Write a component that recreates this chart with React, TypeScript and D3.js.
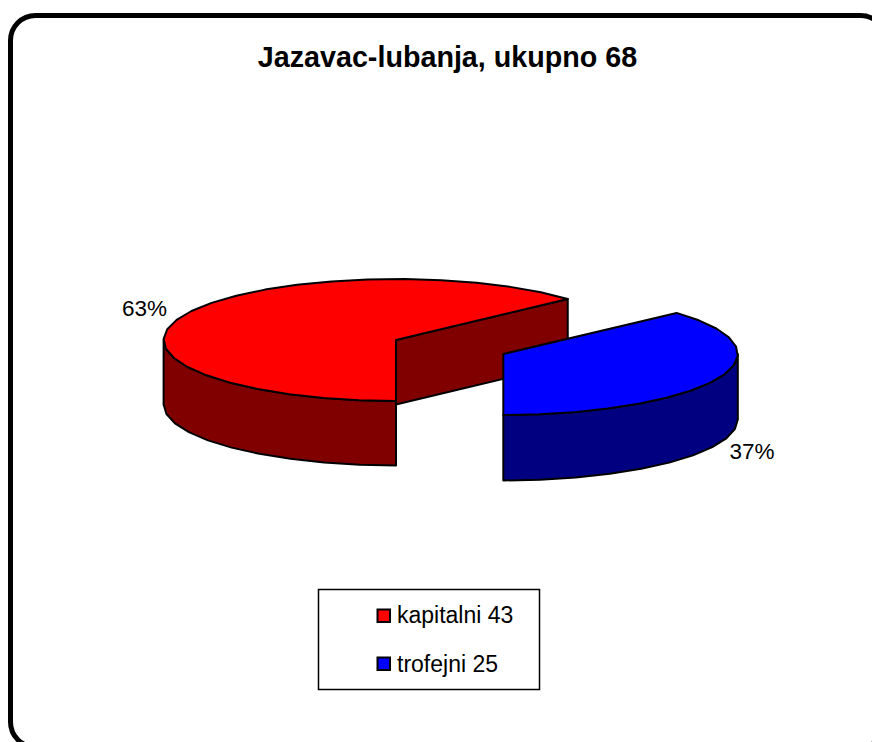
import React from "react";
import * as d3 from "d3";

const categories = ["kapitalni", "trofejni"];
const values = [43, 25];
const sliceColors = ["#ff0000", "#0000ff"];
const wallColors = ["#800000", "#000080"];
const titleText = "Jazavac-lubanja, ukupno 68";

const W = 872;
const H = 742;
const FONT = "'Liberation Sans', Arial, sans-serif";

// projection of each exploded slice
const frames = [
  { cx: 396, cy: 340, rx: 232.4, ry: 61, depth: 64.5 },
  { cx: 503.3, cy: 354, rx: 234.5, ry: 61, depth: 65.5 },
];
const labelPos = [
  { x: 144.5, y: 316 },
  { x: 752, y: 459 },
];

const total = d3.sum(values);
const arcs = d3
  .pie<number>()
  .sort(null)
  .startAngle(Math.PI)
  .endAngle(3 * Math.PI)(values);

const STEP = (9 * Math.PI) / 180;

function samples(a0: number, a1: number): number[] {
  const n = Math.max(1, Math.round((a1 - a0) / STEP));
  return d3.range(n + 1).map((i) => a0 + ((a1 - a0) * i) / n);
}

function App() {
  const line = d3.line<[number, number]>();
  const pieces = arcs.map((arc, i) => {
    const f = frames[i];
    const px = (t: number) => f.cx + f.rx * Math.sin(t);
    const py = (t: number) => f.cy - f.ry * Math.cos(t);
    const rim: [number, number][] = samples(arc.startAngle, arc.endAngle).map((t) => [px(t), py(t)]);
    const top = line([[f.cx, f.cy], ...rim, [f.cx, f.cy]]) + "Z";

    // outer wall: the part of the rim that faces the viewer (angles π/2..3π/2, modulo 2π)
    const turn = arc.startAngle >= 2 * Math.PI ? 2 * Math.PI : 0;
    const wa0 = Math.max(arc.startAngle, Math.PI / 2 + turn);
    const wa1 = Math.min(arc.endAngle, (3 * Math.PI) / 2 + turn);
    const wallTop: [number, number][] = samples(wa0, wa1).map((t) => [px(t), py(t)]);
    const wallBottom = wallTop.map(([x, y]) => [x, y + f.depth] as [number, number]).reverse();
    const wall = line([...wallTop, ...wallBottom]) + "Z";

    // flat cut face for the slice whose end edge looks toward the viewer
    const ex = px(arc.endAngle);
    const ey = py(arc.endAngle);
    const cut =
      arc.endAngle > 2 * Math.PI && arc.endAngle < 3 * Math.PI - 0.01
        ? line([
            [f.cx, f.cy],
            [ex, ey],
            [ex, ey + f.depth],
            [f.cx, f.cy + f.depth],
          ]) + "Z"
        : null;
    return { top, wall, cut, i };
  });

  return (
    <svg
      width={W}
      height={H}
      viewBox={`0 0 ${W} ${H}`}
      style={{ position: "absolute", left: 0, top: 0, background: "#fff" }}
      fontFamily={FONT}
    >
      <rect x={10.5} y={15.5} width={875} height={731.5} rx={25} ry={25} fill="#fff" stroke="#000" strokeWidth={5} />
      <text x={447.5} y={67} textAnchor="middle" fontSize={28.7} fontWeight="bold" fill="#000">
        {titleText}
      </text>

      {pieces.map((p) => (
        <g key={p.i} stroke="#000" strokeWidth={2} strokeLinejoin="round">
          {p.cut && <path d={p.cut} fill={wallColors[p.i]} />}
          <path d={p.wall} fill={wallColors[p.i]} />
          <path d={p.top} fill={sliceColors[p.i]} />
        </g>
      ))}

      {values.map((v, i) => (
        <text key={i} x={labelPos[i].x} y={labelPos[i].y} textAnchor="middle" fontSize={22.5} fill="#000">
          {`${Math.round((v / total) * 100)}%`}
        </text>
      ))}

      <rect x={318.5} y={589.5} width={221} height={100} fill="#fff" stroke="#000" strokeWidth={1.5} />
      {categories.map((c, i) => (
        <g key={c}>
          <rect x={377.5} y={609.5 + i * 48} width={12.5} height={12.5} fill={sliceColors[i]} stroke="#000" strokeWidth={2} />
          <text x={397} y={623 + i * 49} fontSize={23} fill="#000">
            {`${c} ${values[i]}`}
          </text>
        </g>
      ))}
    </svg>
  );
}

export default App;
